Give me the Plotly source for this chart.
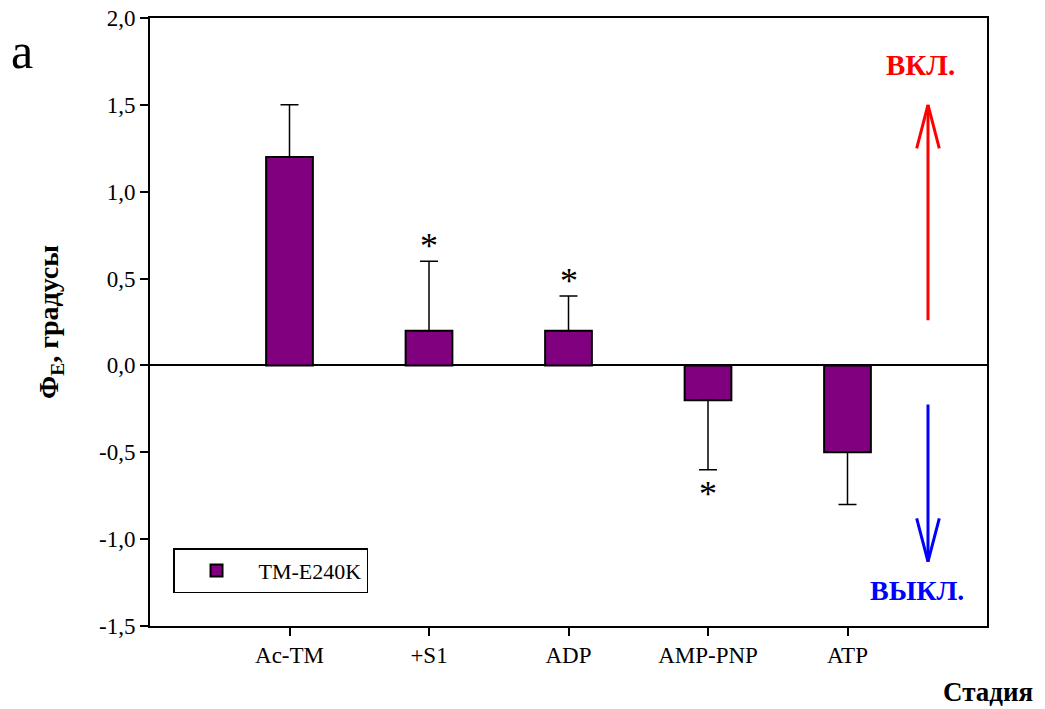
import plotly.graph_objects as go

categories = ["Ac-TM", "+S1", "ADP", "AMP-PNP", "ATP"]
values = [1.2, 0.2, 0.2, -0.2, -0.5]
err_plus = [0.3, 0.4, 0.2, 0.0, 0.0]
err_minus = [0.0, 0.0, 0.0, 0.4, 0.3]
significant = [False, True, True, True, False]
series_name = "TM-E240K"
y_ticks = [-1.5, -1.0, -0.5, 0.0, 0.5, 1.0, 1.5, 2.0]
y_tick_labels = ["-1,5", "-1,0", "-0,5", "0,0", "0,5", "1,0", "1,5", "2,0"]

FONT = "Liberation Serif"
PURPLE = "#800080"

fig = go.Figure()
fig.add_trace(go.Bar(
    x=categories, y=values, name=series_name,
    width=0.335,
    marker=dict(color=PURPLE, line=dict(color="black", width=2)),
    error_y=dict(type="data", symmetric=False, array=err_plus, arrayminus=err_minus,
                 color="black", thickness=1.5, width=9),
))

# significance stars
for c, v, ep, em, s in zip(categories, values, err_plus, err_minus, significant):
    if not s:
        continue
    if v >= 0:
        fig.add_annotation(x=c, y=v + ep, text="*", showarrow=False, yanchor="middle",
                           yshift=15, font=dict(family=FONT, size=36, color="black"))
    else:
        fig.add_annotation(x=c, y=v - em, text="*", showarrow=False, yanchor="middle",
                           yshift=-24, font=dict(family=FONT, size=36, color="black"))

# on/off arrows
ax = 0.9295
dx = 0.0135
red = "#ff0000"
blue = "#0000ff"
arrow_shapes = [
    (ax, 0.26, ax, 1.5, red), (ax - dx, 1.25, ax, 1.5, red), (ax + dx, 1.25, ax, 1.5, red),
    (ax, -0.225, ax, -1.13, blue), (ax - dx, -0.88, ax, -1.13, blue), (ax + dx, -0.88, ax, -1.13, blue),
]
for x0, y0, x1, y1, col in arrow_shapes:
    fig.add_shape(type="line", xref="paper", yref="y", x0=x0, y0=y0, x1=x1, y1=y1,
                  line=dict(color=col, width=3))

fig.add_annotation(xref="paper", yref="paper", x=0.9205, y=0.9227, xanchor="center",
                   yanchor="middle", text="<b>ВКЛ.</b>",
                   showarrow=False, font=dict(family=FONT, size=29, color=red))
fig.add_annotation(xref="paper", yref="paper", x=0.9164, y=0.0592, xanchor="center",
                   yanchor="middle", text="<b>ВЫКЛ.</b>",
                   showarrow=False, font=dict(family=FONT, size=28, color=blue))

fig.add_annotation(xref="paper", yref="paper", x=1.0573, y=-0.108, xanchor="right",
                   yanchor="middle", text="<b>Стадия</b>", showarrow=False,
                   font=dict(family=FONT, size=27, color="black"))
fig.add_annotation(xref="paper", yref="paper", x=-0.169, y=0.9465, xanchor="left",
                   yanchor="middle", text="a", showarrow=False,
                   font=dict(family=FONT, size=50, color="black"))

# page body has an 8px margin; compensate so the plot area sits at x 150-987, y 18-626
fig.update_layout(
    width=1037, height=701,
    margin=dict(l=142, r=58, t=10, b=83, autoexpand=False),
    paper_bgcolor="white", plot_bgcolor="white",
    font=dict(family=FONT, size=23, color="black"),
    showlegend=True,
    legend=dict(x=0.0275, y=0.128, xanchor="left", yanchor="top",
                bordercolor="black", borderwidth=1.5, bgcolor="white",
                font=dict(family=FONT, size=22), itemwidth=74, entrywidth=159),
    xaxis=dict(range=[-1, 5], showline=True, linecolor="black", linewidth=1.5, mirror=True,
               ticks="outside", ticklen=8, tickcolor="black", tickwidth=1.5,
               showgrid=False, zeroline=False, automargin=False,
               tickfont=dict(family=FONT, size=23)),
    yaxis=dict(range=[-1.5, 2.0], tickvals=y_ticks, ticktext=y_tick_labels,
               ticklabeloverflow="allow",
               showline=True, linecolor="black", linewidth=2, mirror=True,
               ticks="outside", ticklen=8, tickcolor="black", tickwidth=1.5,
               showgrid=False, zeroline=True, zerolinecolor="black", zerolinewidth=1.5,
               automargin=False, tickfont=dict(family=FONT, size=23),
               title=dict(text="<b>Φ<sub>E</sub>, градусы</b>",
                          font=dict(family=FONT, size=28), standoff=32)),
)

fig.write_html("out.html")
